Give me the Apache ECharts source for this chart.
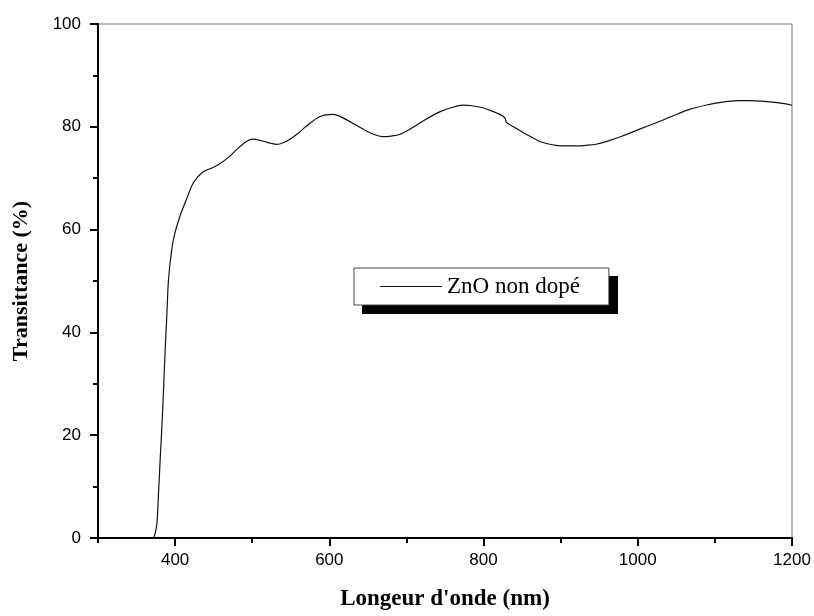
<!DOCTYPE html>
<html>
<head>
<meta charset="utf-8">
<script src="https://cdn.jsdelivr.net/npm/echarts@6/dist/echarts.min.js"></script>
<style>html,body{margin:0;padding:0;background:#fff;}#c{width:814px;height:616px;}</style>
</head>
<body>
<div id="c"></div>
<script>
const wavelength = [372,374,376.4,378.4,380.6,382.8,384.9,387.1,389.3,391.4,395.8,400,406.5,415,424,436,448,458,471,480,493,501,514,524,532,540,549,560,570,588,605,622,635,648,660,670,680,691,704,720,743,758,773,785,799,812,825,828,830,840,851,862,872,883,894,907,920,933,946,963,980,1000,1024,1045,1067,1088,1110,1130,1144,1160,1175,1190,1200];
const transmittance = [0,0.8,2.8,8.4,15.2,21.5,28.5,36.6,43.4,50.2,56.3,59.5,62.7,66.0,69.2,71.2,72.0,72.8,74.3,75.6,77.2,77.6,77.2,76.8,76.6,76.9,77.6,78.8,80.1,82.0,82.4,81.4,80.3,79.2,78.4,78.1,78.2,78.5,79.5,81.0,82.9,83.7,84.2,84.1,83.7,83.0,82.1,81.6,80.8,79.9,78.9,78.0,77.2,76.7,76.4,76.3,76.3,76.4,76.6,77.3,78.2,79.4,80.8,82.1,83.4,84.2,84.8,85.1,85.1,85.0,84.8,84.5,84.2];
const xMajorTicks = [400,600,800,1000,1200];
const xMinorTicks = [300,500,700,900,1100];
const seriesName = 'ZnO non dopé';
const xTitle = "Longeur d'onde (nm)";
const yTitle = 'Transittance (%)';

const data = wavelength.map((w,i)=>[w, transmittance[i]]);
const chart = echarts.init(document.getElementById('c'));
const sans = 'Liberation Sans';
const serif = 'Liberation Serif';
chart.setOption({
  animation:false,
  backgroundColor:'#fff',
  grid:{left:98, right:22, top:24, bottom:75, show:true, borderColor:'#777', borderWidth:1, containLabel:false},
  graphic:[{
    type:'rect', z:0, silent:true,
    shape:{x:362, y:276, width:256, height:38},
    style:{fill:'#000'}
  }],
  legend:{
    left:354, top:268, orient:'horizontal', z:10,
    padding:[7,29,7,26],
    itemWidth:62, itemHeight:1.2,
    backgroundColor:'#fff', borderColor:'#444', borderWidth:1,
    textStyle:{fontFamily:serif, fontSize:23, color:'#000'},
    data:[{name:seriesName, icon:'rect', itemStyle:{color:'#111'}}]
  },
  xAxis:[{
    type:'value', min:300, max:1200, interval:100, position:'bottom',
    name:xTitle, nameLocation:'middle', nameGap:50,
    nameTextStyle:{fontFamily:serif, fontWeight:'bold', fontSize:23, color:'#000'},
    axisLine:{onZero:false, lineStyle:{color:'#000', width:2}},
    axisTick:{customValues:xMajorTicks, length:8, lineStyle:{color:'#000', width:2}},
    axisLabel:{customValues:xMajorTicks, margin:14, fontFamily:sans, fontSize:17, color:'#000', formatter:v=>String(v)},
    splitLine:{show:false}
  },{
    type:'value', min:300, max:1200, interval:100, position:'bottom',
    axisLine:{show:false, onZero:false},
    axisTick:{customValues:xMinorTicks, length:5, lineStyle:{color:'#000', width:2}},
    axisLabel:{show:false},
    splitLine:{show:false}
  }],
  yAxis:{
    type:'value', min:0, max:100, interval:20,
    name:yTitle, nameLocation:'middle', nameGap:66, nameRotate:90,
    nameTextStyle:{fontFamily:serif, fontWeight:'bold', fontSize:22, color:'#000'},
    axisLine:{onZero:false, lineStyle:{color:'#000', width:2}},
    axisTick:{length:8, lineStyle:{color:'#000', width:2}},
    minorTick:{show:true, splitNumber:2, length:5, lineStyle:{color:'#000', width:2}},
    axisLabel:{margin:17, fontFamily:sans, fontSize:17, color:'#000'},
    splitLine:{show:false}
  },
  series:[{
    name:seriesName, type:'line', data:data, xAxisIndex:0,
    symbol:'none', smooth:0.3,
    lineStyle:{color:'#111', width:1.2}
  }]
});
</script>
</body>
</html>
